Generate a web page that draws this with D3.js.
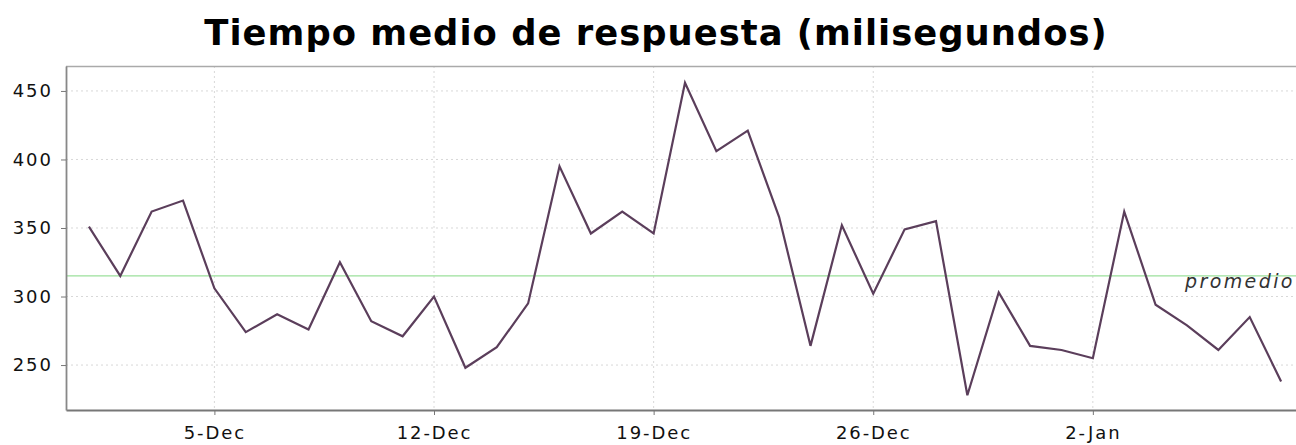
<!DOCTYPE html>
<html>
<head>
<meta charset="utf-8">
<script src="https://cdn.jsdelivr.net/npm/d3@7/dist/d3.min.js"></script>
<style>
  html, body { margin: 0; padding: 0; background: #fff; overflow: hidden; }
  svg { display: block; }
</style>
</head>
<body>
<svg id="chart" width="1296" height="445"></svg>
<script>
// ---- data ----
const titleText = "Tiempo medio de respuesta (milisegundos)";
const dates = [
  "2009-12-01","2009-12-02","2009-12-03","2009-12-04","2009-12-05","2009-12-06","2009-12-07",
  "2009-12-08","2009-12-09","2009-12-10","2009-12-11","2009-12-12","2009-12-13","2009-12-14",
  "2009-12-15","2009-12-16","2009-12-17","2009-12-18","2009-12-19","2009-12-20","2009-12-21",
  "2009-12-22","2009-12-23","2009-12-24","2009-12-25","2009-12-26","2009-12-27","2009-12-28",
  "2009-12-29","2009-12-30","2009-12-31","2010-01-01","2010-01-02","2010-01-03","2010-01-04",
  "2010-01-05","2010-01-06","2010-01-07","2010-01-08"
];
const values = [
  351, 315, 362, 370, 306, 274, 287,
  276, 325, 282, 271, 300, 248, 263,
  295, 395, 346, 362, 346, 456, 406,
  421, 358, 264, 352, 302, 349, 355,
  228, 303, 264, 261, 255, 362, 294,
  279, 261, 285, 238
];
const xTickDates = ["2009-12-05","2009-12-12","2009-12-19","2009-12-26","2010-01-02"];
const yTickValues = [250, 300, 350, 400, 450];
const averageValue = 315;
const averageLabel = "promedio";

// ---- layout ----
(function () {
const parse = d3.timeParse("%Y-%m-%d");
const data = dates.map((d, i) => ({ date: parse(d), value: values[i] }));
const pL = 66, pR = 1304, pT = 66, pB = 410;
const svg = d3.select("#chart");

const dayMs = 864e5;
const first = data[0].date, last = data[data.length - 1].date;
const x = d3.scaleTime()
  .domain([new Date(+first - 0.73 * dayMs), new Date(+last + 0.73 * dayMs)])
  .range([pL, pR]);
const y = d3.scaleLinear().domain([217.2, 468.2]).range([pB, pT]);

const fmt = d3.timeFormat("%-d-%b");
const tickFont = "DejaVu Sans, sans-serif";

svg.append("rect").attr("x", pL).attr("y", pT)
  .attr("width", pR - pL).attr("height", pB - pT).attr("fill", "#fff");

// gridlines
const grid = svg.append("g");
grid.selectAll("line.h").data(yTickValues).join("line")
  .attr("x1", pL).attr("x2", pR)
  .attr("y1", d => y(d)).attr("y2", d => y(d))
  .attr("stroke", "#d8d8d8").attr("stroke-width", 1).attr("stroke-dasharray", "2,3");
grid.selectAll("line.v").data(xTickDates.map(parse)).join("line")
  .attr("y1", pT).attr("y2", pB)
  .attr("x1", d => x(d)).attr("x2", d => x(d))
  .attr("stroke", "#d8d8d8").attr("stroke-width", 1).attr("stroke-dasharray", "2,3");

// top outline
svg.append("line").attr("x1", pL).attr("x2", pR).attr("y1", pT + 0.5).attr("y2", pT + 0.5)
  .attr("stroke", "#aaa").attr("stroke-width", 1.5);

// average marker
svg.append("line").attr("x1", pL).attr("x2", pR)
  .attr("y1", y(averageValue)).attr("y2", y(averageValue))
  .attr("stroke", "#9be09b").attr("stroke-width", 1.2);
svg.append("text").attr("x", 1185).attr("y", y(averageValue) + 12)
  .attr("font-family", tickFont).attr("font-style", "italic").attr("font-size", 19)
  .attr("letter-spacing", 2.4).attr("fill", "#333").text(averageLabel);

// axes
const xAxis = d3.axisBottom(x).tickValues(xTickDates.map(parse)).tickFormat(fmt)
  .tickSizeInner(5).tickSizeOuter(0).tickPadding(11);
const gx = svg.append("g").attr("transform", `translate(0,${pB})`).call(xAxis);
gx.select(".domain").attr("stroke", "#777").attr("stroke-width", 1.8);
gx.selectAll(".tick line").attr("stroke", "#777");
gx.selectAll("text").attr("font-family", tickFont).attr("font-size", 18)
  .attr("letter-spacing", 1.9).attr("fill", "#111");

const yAxis = d3.axisLeft(y).tickValues(yTickValues).tickSizeInner(5).tickSizeOuter(0).tickPadding(10);
const gy = svg.append("g").attr("transform", `translate(${pL},0)`).call(yAxis);
gy.select(".domain").attr("stroke", "#888").attr("stroke-width", 1.8);
gy.selectAll(".tick line").attr("stroke", "#777");
gy.selectAll("text").attr("font-family", tickFont).attr("font-size", 18)
  .attr("letter-spacing", 2.0).attr("fill", "#111").attr("dx", 2);

// series line
const line = d3.line().x(d => x(d.date)).y(d => y(d.value));
svg.append("path").datum(data).attr("d", line)
  .attr("fill", "none").attr("stroke", "#5b3e5b").attr("stroke-width", 2.2)
  .attr("stroke-linejoin", "miter");

// title
const title = svg.append("text").attr("x", 656).attr("y", 45)
  .attr("text-anchor", "middle").attr("font-family", "DejaVu Sans, sans-serif")
  .attr("font-weight", "bold").attr("font-size", 36).attr("letter-spacing", 1)
  .attr("fill", "#000").text(titleText);
const len = title.node().getComputedTextLength();
title.attr("font-size", 36 * 903 / len);
})();
</script>
</body>
</html>
